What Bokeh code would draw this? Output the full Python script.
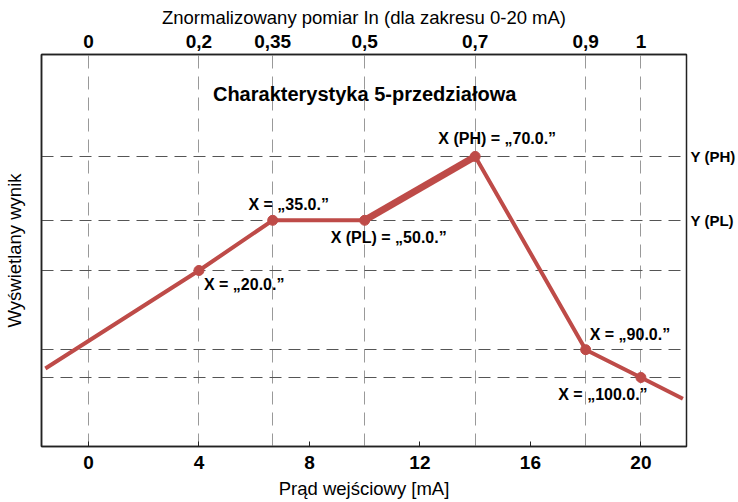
from bokeh.plotting import figure
from bokeh.models import Range1d, FixedTicker, LinearAxis, CustomJSTickFormatter
from bokeh.core.properties import value
from bokeh.embed import file_html
from bokeh.resources import INLINE

# ---- data ----
line_x = [-1.56, 4, 6.67, 10, 14, 18, 20, 21.52]
line_y = [19.9, 44.9, 57.7, 57.7, 74.0, 24.7, 17.6, 12.2]
point_labels = ["X = „20.0.”", "X = „35.0.”", "X (PL) = „50.0.”",
                "X (PH) = „70.0.”", "X = „90.0.”", "X = „100.0.”"]
bottom_ticks = [0, 4, 8, 12, 16, 20]
top_tick_pos = [0, 4, 6.67, 10, 14, 18, 20]
top_tick_labels = ["0", "0,2", "0,35", "0,5", "0,7", "0,9", "1"]
level_y = [74.0, 57.7, 44.9, 24.7, 17.6]
right_tick_pos = [74.0, 57.7]
right_tick_labels = ["Y (PH)", "Y (PL)"]
title_text = "Charakterystyka 5-przedziałowa"

# ---- layout / style (not data) ----
label_style = [  # (align, x_offset, y_offset)
    ("left", 5, 14), ("center", 16, -16), ("center", 24, 17),
    ("center", 22, -18), ("left", 4, -15), ("center", -38, 17),
]
FONT = "Liberation Sans"
RED = "#BE4B48"

p = figure(frame_width=645, frame_height=392,
           x_range=Range1d(-1.70, 21.65), y_range=Range1d(0, 100),
           output_backend="svg", toolbar_location=None,
           min_border_left=41, min_border_right=50,
           min_border_top=54, min_border_bottom=54)
p.background_fill_color = "white"
p.border_fill_color = "white"
p.outline_line_color = "#222222"
p.outline_line_width = 1.5

# grids
p.xgrid.ticker = FixedTicker(ticks=top_tick_pos)
p.xgrid.grid_line_color = "#999999"
p.xgrid.grid_line_dash = "13 8"
p.xgrid.grid_line_width = 1
p.ygrid.ticker = FixedTicker(ticks=level_y)
p.ygrid.grid_line_color = "#555555"
p.ygrid.grid_line_dash = "12 7"
p.ygrid.grid_line_width = 1

def map_formatter(pos, labels):
    return CustomJSTickFormatter(args=dict(pos=pos, labels=labels), code="""
        for (let i = 0; i < pos.length; i++) {
            if (Math.abs(pos[i] - tick) < 1e-6) return labels[i];
        }
        return '';
    """)

# bottom axis
xa = p.xaxis[0]
xa.ticker = FixedTicker(ticks=bottom_ticks)
xa.axis_label = "Prąd wejściowy [mA]"
xa.major_tick_in = 5
xa.major_tick_out = 0
xa.minor_tick_line_color = None
xa.major_tick_line_color = "#222222"
xa.axis_line_color = "#222222"
xa.axis_line_width = 1.5
xa.major_label_standoff = 9
xa.axis_label_standoff = 6

# left axis
ya = p.yaxis[0]
ya.ticker = FixedTicker(ticks=[])
ya.axis_label = "Wyświetlany wynik"
ya.major_tick_line_color = None
ya.minor_tick_line_color = None
ya.axis_line_color = "#222222"
ya.axis_line_width = 1.5
ya.axis_label_standoff = 17

# top axis
ta = LinearAxis(ticker=FixedTicker(ticks=top_tick_pos),
                formatter=map_formatter(top_tick_pos, top_tick_labels),
                axis_label="Znormalizowany pomiar In (dla zakresu 0-20 mA)")
ta.major_tick_in = 0
ta.major_tick_out = 0
ta.minor_tick_line_color = None
ta.axis_line_color = "#222222"
ta.axis_line_width = 1.5
ta.major_label_standoff = 7
ta.axis_label_standoff = 4
p.add_layout(ta, "above")

# right axis
ra = LinearAxis(ticker=FixedTicker(ticks=right_tick_pos),
                formatter=map_formatter(right_tick_pos, right_tick_labels))
ra.major_tick_in = 0
ra.major_tick_out = 0
ra.minor_tick_line_color = None
ra.axis_line_color = None
ra.major_label_standoff = 4
p.add_layout(ra, "right")

for ax in (xa, ya, ta):
    ax.major_label_text_font = FONT
    ax.major_label_text_font_style = "bold"
    ax.major_label_text_font_size = "19px"
    ax.major_label_text_color = "black"
    ax.axis_label_text_font = FONT
    ax.axis_label_text_font_style = "normal"
    ax.axis_label_text_font_size = "18.5px"
    ax.axis_label_text_color = "black"
ra.major_label_text_font = FONT
ra.major_label_text_font_style = "bold"
ra.major_label_text_font_size = "15px"
ra.major_label_text_color = "black"

# series
p.line(line_x, line_y, line_color=RED, line_width=4)
p.line(line_x[3:5], line_y[3:5], line_color=RED, line_width=7)
p.scatter(line_x[1:7], line_y[1:7], size=10, fill_color=RED, line_color=RED)

# point labels
for i, txt in enumerate(point_labels):
    align, dx, dy = label_style[i]
    p.text(x=[line_x[i + 1]], y=[line_y[i + 1]], text=[txt],
           text_font=value(FONT), text_font_style="bold", text_font_size="16px",
           text_color="black", text_align=align, text_baseline="middle",
           x_offset=dx, y_offset=dy)

# title inside plot
p.text(x=[10.0], y=[90.0], text=[title_text],
       text_font=value(FONT), text_font_style="bold", text_font_size="20px",
       text_color="black", text_align="center", text_baseline="middle")

open("out.html", "w").write(file_html(p, INLINE))
